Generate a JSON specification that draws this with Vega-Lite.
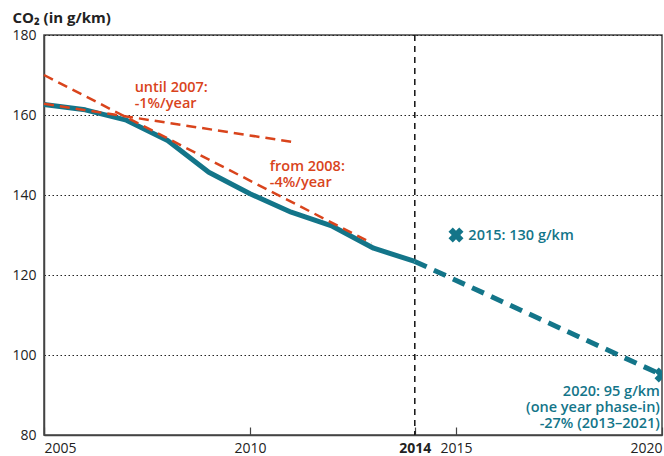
{
  "$schema": "https://vega.github.io/schema/vega-lite/v6.json",
  "width": 618,
  "height": 400,
  "autosize": {"type": "none"},
  "padding": {"left": 44, "top": 35, "right": 2, "bottom": 21},
  "background": "white",
  "config": {
    "font": "Open Sans",
    "view": {"stroke": "#444", "strokeWidth": 1.5}
  },
  "datasets": {
    "actual": [
      {"year": 2005, "value": 162.6},
      {"year": 2006, "value": 161.3},
      {"year": 2007, "value": 158.7},
      {"year": 2008, "value": 153.6},
      {"year": 2009, "value": 145.7},
      {"year": 2010, "value": 140.3},
      {"year": 2011, "value": 135.7},
      {"year": 2012, "value": 132.2},
      {"year": 2013, "value": 126.7},
      {"year": 2014, "value": 123.4}
    ],
    "proj": [
      {"year": 2014, "value": 123.4},
      {"year": 2020, "value": 95}
    ],
    "trend": [
      {"series": "until 2007", "year": 2005, "value": 162.8},
      {"series": "until 2007", "year": 2011.0, "value": 153.3},
      {"series": "from 2008", "year": 2005, "value": 170},
      {"series": "from 2008", "year": 2012.95, "value": 128.0}
    ],
    "markers": [
      {"year": 2015, "value": 130},
      {"year": 2020, "value": 95}
    ],
    "redLabels": [
      {"year": 2007.2, "value": 168.4, "text": ["until 2007:", "-1%/year"]},
      {"year": 2010.48, "value": 148.7, "text": ["from 2008:", "-4%/year"]}
    ],
    "tealLabels": [
      {"year": 2015.3, "value": 129.8, "text": "2015: 130 g/km"}
    ],
    "tealLabels2": [
      {"year": 2019.95, "value": 92.6, "text": ["2020: 95 g/km", "(one year phase-in)", "-27% (2013–2021)"]}
    ],
    "vline": [
      {"year": 2014}
    ]
  },
  "layer": [
    {
      "data": {"name": "vline"},
      "mark": {"type": "rule", "color": "#111", "strokeWidth": 1.5, "strokeDash": [6, 5]},
      "encoding": {
        "x": {
          "field": "year",
          "type": "quantitative",
          "scale": {"domain": [2005, 2020], "nice": false, "zero": false},
          "axis": {
            "values": [2005, 2010, 2014, 2015, 2020],
            "format": "d",
            "title": null,
            "grid": false,
            "domainColor": "#444",
            "domainWidth": 1.5,
            "tickColor": "#444",
            "tickWidth": 1.2,
            "tickSize": -8,
            "labelPadding": 14,
            "labelFlush": true,
            "labelFont": "Open Sans",
            "labelFontSize": 14,
            "labelColor": "#222",
            "labelFontWeight": {"condition": {"test": "datum.value == 2014", "value": "bold"}, "value": "normal"}
          }
        }
      }
    },
    {
      "data": {"name": "actual"},
      "mark": {"type": "line", "color": "#137589", "strokeWidth": 5, "strokeJoin": "round", "strokeCap": "butt"},
      "encoding": {
        "x": {"field": "year", "type": "quantitative"},
        "y": {
          "field": "value",
          "type": "quantitative",
          "scale": {"domain": [80, 180], "nice": false, "zero": false},
          "axis": {
            "values": [80, 100, 120, 140, 160, 180],
            "title": "CO₂ (in g/km)",
            "titleAngle": 0,
            "titleAlign": "left",
            "titleBaseline": "alphabetic",
            "titleX": -32,
            "titleY": -13,
            "titleFont": "Open Sans",
            "titleFontSize": 15,
            "titleFontWeight": "bold",
            "titleColor": "#222",
            "ticks": false,
            "tickSize": 0,
            "labelPadding": 8,
            "labelFont": "Open Sans",
            "labelFontSize": 14,
            "labelColor": "#222",
            "domainColor": "#444",
            "domainWidth": 1.5,
            "grid": true,
            "gridColor": "#222",
            "gridWidth": 1,
            "gridDash": [1.5, 2.5]
          }
        }
      }
    },
    {
      "data": {"name": "proj"},
      "mark": {"type": "line", "color": "#137589", "strokeWidth": 5, "strokeDash": [13, 8]},
      "encoding": {
        "x": {"field": "year", "type": "quantitative"},
        "y": {"field": "value", "type": "quantitative"}
      }
    },
    {
      "data": {"name": "trend"},
      "mark": {"type": "line", "color": "#d9441c", "strokeWidth": 2.5, "strokeDash": [10, 6]},
      "encoding": {
        "x": {"field": "year", "type": "quantitative"},
        "y": {"field": "value", "type": "quantitative"},
        "detail": {"field": "series"}
      }
    },
    {
      "data": {"name": "markers"},
      "mark": {"type": "point", "shape": "cross", "angle": 45, "filled": true, "color": "#137589", "size": 230, "opacity": 1, "clip": true},
      "encoding": {
        "x": {"field": "year", "type": "quantitative"},
        "y": {"field": "value", "type": "quantitative"}
      }
    },
    {
      "data": {"name": "redLabels"},
      "mark": {"type": "text", "align": "left", "baseline": "top", "color": "#d9441c", "font": "Open Sans", "fontSize": 14.5, "fontWeight": 600, "lineHeight": 16},
      "encoding": {
        "x": {"field": "year", "type": "quantitative"},
        "y": {"field": "value", "type": "quantitative"},
        "text": {"field": "text"}
      }
    },
    {
      "data": {"name": "tealLabels"},
      "mark": {"type": "text", "align": "left", "baseline": "middle", "color": "#137589", "font": "Open Sans", "fontSize": 14.5, "fontWeight": 600},
      "encoding": {
        "x": {"field": "year", "type": "quantitative"},
        "y": {"field": "value", "type": "quantitative"},
        "text": {"field": "text"}
      }
    },
    {
      "data": {"name": "tealLabels2"},
      "mark": {"type": "text", "align": "right", "baseline": "top", "color": "#137589", "font": "Open Sans", "fontSize": 14.5, "fontWeight": 600, "lineHeight": 16},
      "encoding": {
        "x": {"field": "year", "type": "quantitative"},
        "y": {"field": "value", "type": "quantitative"},
        "text": {"field": "text"}
      }
    }
  ]
}
